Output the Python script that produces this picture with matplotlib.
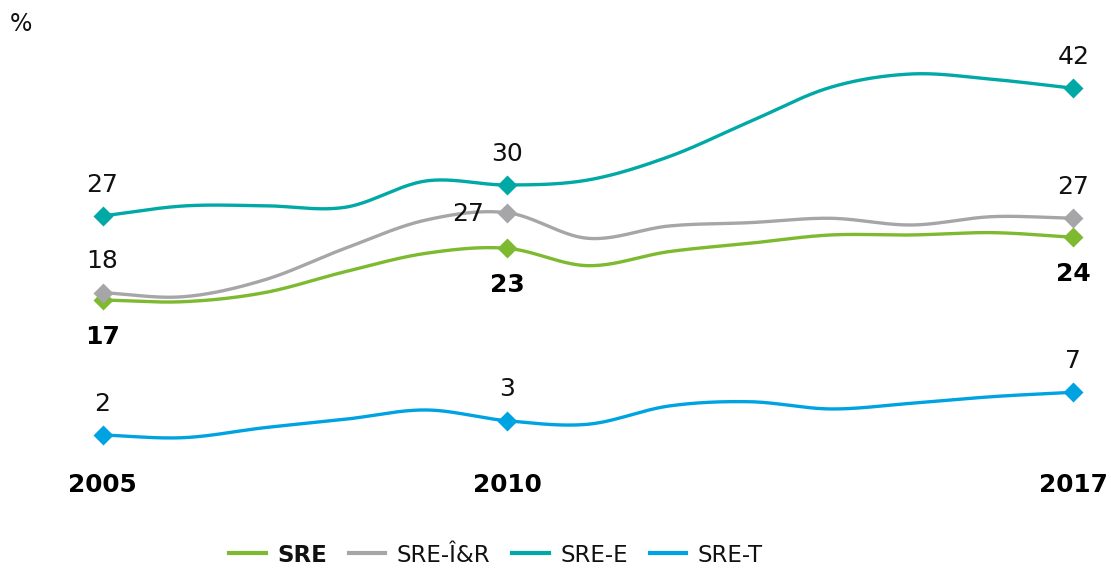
import numpy as np
import matplotlib
matplotlib.use("Agg")
import matplotlib.pyplot as plt
from matplotlib.lines import Line2D

plt.rcParams['font.family'] = ['DejaVu Sans']

years = [2005, 2006, 2007, 2008, 2009, 2010, 2011, 2012, 2013, 2014, 2015, 2016, 2017]
sre = [17.14, 16.94, 17.99, 20.43, 22.57, 23.15, 21.13, 22.76, 23.73, 24.70, 24.70, 24.97, 24.43]
sre_ir = [17.99, 17.52, 19.47, 23.15, 26.44, 27.29, 24.31, 25.74, 26.13, 26.64, 25.86, 26.83, 26.64]
sre_e = [26.91, 28.07, 28.10, 27.92, 30.98, 30.51, 31.09, 33.80, 37.87, 41.87, 43.42, 42.80, 41.76]
sre_t = [1.44, 1.13, 2.29, 3.27, 4.35, 3.10, 2.69, 4.81, 5.31, 4.47, 5.13, 5.90, 6.41]

label_years = [2005, 2010, 2017]
sre_labels = ["17", "23", "24"]
sre_ir_labels = ["18", "27", "27"]
sre_e_labels = ["27", "30", "42"]
sre_t_labels = ["2", "3", "7"]

names = ["SRE", "SRE-Î&R", "SRE-E", "SRE-T"]
colors = ["#7DBA2F", "#A6A6A8", "#00A9A6", "#00A3E2"]


def catmull_rom(x, y, n=40):
    x = np.asarray(x, float)
    y = np.asarray(y, float)
    px = np.concatenate([[2 * x[0] - x[1]], x, [2 * x[-1] - x[-2]]])
    py = np.concatenate([[2 * y[0] - y[1]], y, [2 * y[-1] - y[-2]]])
    xs, ys = [], []
    t = np.linspace(0, 1, n, endpoint=False)
    for i in range(1, len(px) - 2):
        for P, out in ((px, xs), (py, ys)):
            p0, p1, p2, p3 = P[i - 1], P[i], P[i + 1], P[i + 2]
            out.append(0.5 * ((2 * p1) + (-p0 + p2) * t +
                              (2 * p0 - 5 * p1 + 4 * p2 - p3) * t ** 2 +
                              (-p0 + 3 * p1 - 3 * p2 + p3) * t ** 3))
    xs.append([x[-1]])
    ys.append([y[-1]])
    return np.concatenate(xs), np.concatenate(ys)


fig = plt.figure(figsize=(11.11, 5.69), dpi=100)
ax = fig.add_axes([0, 0, 1, 1])
ax.set_xlim(2003.733, 2017.466)
ax.set_ylim(-14.14, 52.02)
ax.axis("off")

series = [sre, sre_ir, sre_e, sre_t]
for vals, col in zip(series, colors):
    sx, sy = catmull_rom(years, vals)
    ax.plot(sx, sy, color=col, lw=2.4, solid_capstyle="round", zorder=2)
    mv = [vals[years.index(yr)] for yr in label_years]
    ax.plot(label_years, mv, ls="none", marker="D", ms=10, color=col,
            mec="none", zorder=3)

fs = 18
tc = "#111111"
# data labels
for i, yr in enumerate(label_years):
    v = sre_e[years.index(yr)]
    ax.annotate(sre_e_labels[i], (yr, v), xytext=(0, 22.5), textcoords="offset points",
                ha="center", va="center", fontsize=fs, color=tc)
    v = sre_t[years.index(yr)]
    ax.annotate(sre_t_labels[i], (yr, v), xytext=(0, 22.5), textcoords="offset points",
                ha="center", va="center", fontsize=fs, color=tc)
    v = sre[years.index(yr)]
    ax.annotate(sre_labels[i], (yr, v), xytext=(0, -26.5), textcoords="offset points",
                ha="center", va="center", fontsize=fs, color="black", fontweight="bold")
    v = sre_ir[years.index(yr)]
    if yr == 2010:
        off = (-28, -1)
    else:
        off = (0, 22.5)
    ax.annotate(sre_ir_labels[i], (yr, v), xytext=off, textcoords="offset points",
                ha="center", va="center", fontsize=fs, color=tc)

# year labels
for yr in label_years:
    ax.text(yr, -4.37, str(yr), ha="center", va="center", fontsize=17.8,
            fontweight="bold", color="black")

fig.text(10 / 1111, 1 - 24 / 569, "%", ha="left", va="center", fontsize=17, color=tc)

handles = [Line2D([0], [0], color=c, lw=3) for c in colors]
leg = fig.legend(handles, names, loc="center", bbox_to_anchor=(496 / 1111, 1 - 555 / 569),
                 ncol=4, frameon=False, fontsize=16.5, handlelength=1.6,
                 handletextpad=0.5, columnspacing=0.95)
for t in leg.get_texts():
    t.set_color(tc)
leg.get_texts()[0].set_fontweight("bold")

fig.savefig("out.png", dpi=100)
